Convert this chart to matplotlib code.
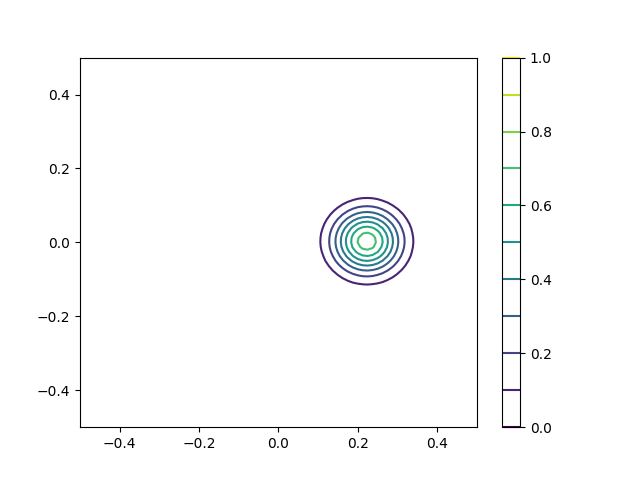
import numpy as np
import matplotlib
matplotlib.use("Agg")
import matplotlib.pyplot as plt

# -----------------------------
# Field parameters
# -----------------------------
x_range = [-0.5, 0.5]
y_range = [-0.5, 0.5]
grid_step = 0.0125

peak_height = 0.76
peak_center = [0.223, 0.003]
peak_width = 0.058

levels = [0.0, 0.1, 0.2, 0.3, 0.4, 0.5, 0.6, 0.7, 0.8, 0.9, 1.0]

# -----------------------------
# Build grid
# -----------------------------
xs = np.arange(x_range[0], x_range[1] + grid_step / 2, grid_step)
ys = np.arange(y_range[0], y_range[1] + grid_step / 2, grid_step)
X, Y = np.meshgrid(xs, ys)

R2 = (X - peak_center[0]) ** 2 + (Y - peak_center[1]) ** 2
Z = peak_height * np.exp(-R2 / (2 * peak_width ** 2))

# -----------------------------
# Plot
# -----------------------------
fig, ax = plt.subplots(figsize=(6.4, 4.8), dpi=100)

cs = ax.contour(X, Y, Z, levels=levels, cmap="viridis")
fig.colorbar(cs, ax=ax)

ax.set_xlim(x_range)
ax.set_ylim(y_range)

fig.savefig("out.png")
